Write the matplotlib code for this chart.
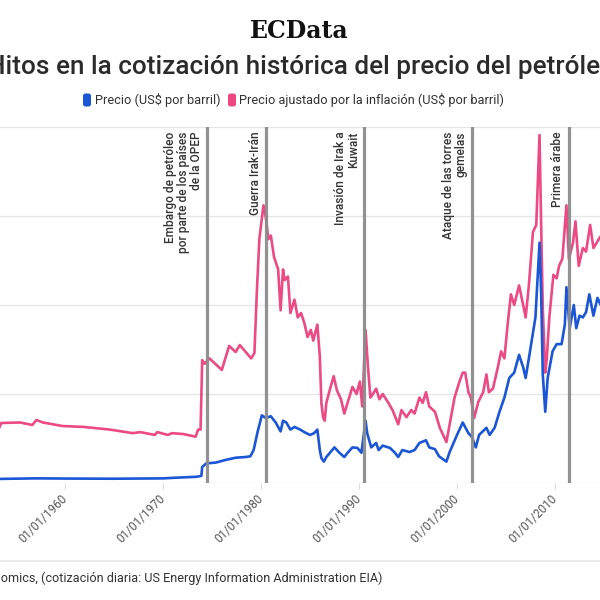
import matplotlib
matplotlib.use("Agg")
import matplotlib.pyplot as plt
import matplotlib.dates as mdates
from matplotlib.patches import FancyBboxPatch
from matplotlib.lines import Line2D
import pandas as pd

# ---------------- data ----------------
precio_fechas = ["1953-05", "1957-01", "1960-01", "1965-01", "1970-01", "1971-06", "1973-06", "1973-12",
                 "1974-01", "1974-06", "1975-06", "1976-06", "1977-06", "1978-06", "1978-12", "1979-04",
                 "1979-09", "1980-02", "1980-07", "1981-01", "1981-07", "1982-01", "1982-04", "1982-08",
                 "1983-01", "1983-06", "1984-01", "1984-06", "1985-01", "1985-06", "1985-10", "1986-01",
                 "1986-03", "1986-06", "1986-09", "1987-07", "1988-01", "1988-07", "1988-11", "1989-05",
                 "1989-11", "1990-04", "1990-09", "1990-11", "1991-04", "1991-10", "1992-01", "1992-06",
                 "1993-03", "1993-09", "1994-01", "1994-06", "1995-03", "1995-09", "1996-03", "1996-11",
                 "1997-03", "1997-10", "1998-03", "1998-12", "1999-04", "2000-01", "2000-08", "2001-03",
                 "2001-07", "2001-12", "2002-04", "2003-01", "2003-05", "2003-11", "2004-05", "2004-11",
                 "2005-05", "2005-11", "2006-05", "2006-10", "2007-01", "2007-05", "2008-01", "2008-06",
                 "2008-08", "2008-10", "2009-01", "2009-04", "2009-10", "2010-03", "2010-09", "2011-01",
                 "2011-03", "2011-07", "2011-12", "2012-03", "2012-07", "2012-11", "2013-03", "2013-07",
                 "2013-12", "2014-05", "2014-09"]
precio_valores = [2.3, 2.6, 2.5, 2.4, 2.6, 3.0, 3.5, 4.0,
                  9.0, 11.0, 11.5, 13.0, 14.2, 14.6, 15.0, 18.5,
                  29.0, 38.0, 36.5, 37.5, 34.0, 29.0, 35.0, 34.0,
                  30.0, 31.5, 30.0, 28.6, 27.0, 28.0, 30.0, 18.5,
                  14.0, 12.0, 14.6, 20.0, 17.0, 14.6, 17.0, 20.0,
                  19.7, 17.0, 35.0, 28.0, 20.0, 22.5, 18.5, 21.0,
                  19.7, 17.0, 14.6, 18.5, 17.4, 18.5, 22.5, 24.0,
                  20.0, 19.0, 15.0, 12.0, 17.4, 27.0, 34.0, 28.0,
                  26.0, 20.0, 27.0, 31.0, 27.0, 31.0, 40.0, 48.0,
                  59.0, 62.0, 72.0, 65.0, 59.0, 70.0, 93.0, 135.0,
                  107.0, 61.0, 40.0, 59.0, 74.0, 78.0, 78.0, 89.0,
                  110.0, 87.0, 100.0, 87.0, 94.0, 93.0, 96.0, 106.0,
                  94.0, 104.0, 100.0]

ajustado_fechas = ["1953-05", "1953-07", "1955-06", "1956-09", "1957-02", "1957-10", "1958-10", "1959-10",
                   "1961-12", "1964-08", "1966-12", "1967-09", "1969-03", "1969-06", "1970-07", "1970-12",
                   "1972-02", "1973-05", "1973-08", "1973-11", "1974-01", "1974-04", "1974-10", "1976-01",
                   "1976-10", "1977-06", "1977-11", "1979-01", "1979-05", "1979-08", "1979-11", "1980-04",
                   "1980-07", "1980-10", "1981-01", "1981-05", "1981-10", "1982-01", "1982-04", "1982-06",
                   "1982-10", "1983-01", "1983-06", "1983-10", "1984-02", "1984-06", "1984-10", "1985-02",
                   "1985-05", "1985-10", "1986-01", "1986-03", "1986-05", "1986-07", "1986-09", "1987-01",
                   "1987-06", "1987-10", "1988-03", "1988-07", "1988-11", "1989-05", "1989-10", "1990-02",
                   "1990-05", "1990-09", "1990-12", "1991-03", "1991-06", "1991-10", "1992-02", "1992-06",
                   "1993-01", "1993-06", "1994-01", "1994-05", "1994-11", "1995-05", "1995-09", "1996-03",
                   "1996-07", "1996-11", "1997-03", "1997-10", "1998-04", "1998-12", "1999-04", "1999-10",
                   "2000-04", "2000-08", "2000-11", "2001-03", "2001-06", "2001-10", "2002-03", "2002-09",
                   "2003-01", "2003-04", "2003-09", "2004-03", "2004-07", "2004-11", "2005-03", "2005-07",
                   "2005-11", "2006-05", "2006-10", "2007-01", "2007-05", "2007-10", "2008-02", "2008-06",
                   "2008-08", "2008-10", "2009-01", "2009-03", "2009-06", "2009-11", "2010-03", "2010-06",
                   "2010-10", "2011-03", "2011-06", "2011-11", "2012-02", "2012-06", "2012-11", "2013-03",
                   "2013-08", "2013-12", "2014-04", "2014-08"]
ajustado_valores = [31.5, 33.7, 34.0, 32.6, 35.4, 34.0, 33.0, 32.0,
                    31.5, 30.0, 28.0, 28.6, 27.0, 28.6, 27.0, 28.0,
                    27.5, 26.0, 30.0, 30.0, 69.0, 67.0, 70.0, 63.5,
                    77.0, 73.6, 77.5, 70.0, 73.0, 108.0, 137.0, 156.0,
                    149.0, 137.0, 139.0, 127.0, 120.0, 97.0, 120.0, 114.0,
                    116.0, 95.5, 103.0, 93.0, 95.5, 90.0, 82.0, 86.0,
                    80.0, 89.0, 71.0, 45.0, 37.0, 35.0, 45.0, 52.0,
                    60.0, 52.0, 47.0, 39.0, 45.0, 54.0, 50.0, 57.0,
                    43.0, 86.0, 65.0, 48.0, 50.0, 53.0, 47.0, 50.0,
                    45.0, 41.0, 33.0, 41.0, 37.0, 41.0, 39.0, 48.0,
                    45.0, 51.0, 43.0, 40.0, 31.0, 23.0, 33.0, 48.0,
                    57.0, 62.0, 62.0, 51.0, 48.0, 36.5, 45.5, 51.0,
                    61.0, 51.0, 53.0, 65.0, 74.0, 70.0, 89.0, 106.0,
                    100.0, 111.0, 100.0, 93.0, 111.0, 141.0, 145.0, 195.5,
                    145.0, 98.0, 62.0, 70.0, 93.0, 117.0, 115.0, 122.0,
                    126.0, 156.0, 126.0, 135.0, 147.0, 122.0, 132.0, 130.0,
                    145.0, 132.0, 135.0, 138.0]

eventos_fechas = ["1974-07-01", "1980-07-05", "1990-07-01", "2001-07-10", "2011-05-20"]
eventos_textos = ["Embargo de petróleo\npor parte de los países\nde la OPEP",
                  "Guerra Irak-Irán",
                  "Invasión de Irak a\nKuwait",
                  "Ataque de las torres\ngemelas",
                  "Primera árabe"]

tick_anios = [1960, 1970, 1980, 1990, 2000, 2010]
y_grid = [0, 50, 100, 150, 200]

serie_nombres = ["Precio (US$ por barril)", "Precio ajustado por la inflación (US$ por barril)"]
titulo = "Hitos en la cotización histórica del precio del petróleo"
marca = "ECData"
fuente_inicio = "Fuente: Trading Econ"
fuente_resto = "omics, (cotización diaria: US Energy Information Administration EIA)"

# ---------------- style ----------------
AZUL = "#1b56d6"
ROSA = "#ec4a85"
GRIS_EV = "#8c8c8c"
TXT = "#333333"
plt.rcParams["font.family"] = ["Roboto", "DejaVu Sans"]

W, H = 600, 600
fig = plt.figure(figsize=(6, 6), dpi=100)
fig.patch.set_facecolor("white")

def fx(px):
    return px / W

def fy(py):
    return 1 - py / H

ax_left, ax_right, ax_top, ax_bottom = 0, 600, 127, 483
ax = fig.add_axes([fx(ax_left), fy(ax_bottom), (ax_right - ax_left) / W, (ax_bottom - ax_top) / H])
ax.set_facecolor("none")

d_p = pd.to_datetime(precio_fechas)
d_a = pd.to_datetime(ajustado_fechas)
ax.plot(d_a, ajustado_valores, color=ROSA, lw=1.9, zorder=3, solid_joinstyle="round")
ax.plot(d_p, precio_valores, color=AZUL, lw=1.9, zorder=4, solid_joinstyle="round")

for g in y_grid:
    ax.axhline(g, color="#e6e6e6", lw=1.0, zorder=1)

for f, t in zip(eventos_fechas, eventos_textos):
    d = pd.Timestamp(f)
    ax.axvline(d, color=GRIS_EV, lw=2.3, zorder=5, alpha=0.95)
    ax.annotate(t, xy=(d, 1), xycoords=("data", "axes fraction"),
                xytext=(-3.0, -3.5), textcoords="offset points",
                rotation=90, ha="right", va="top", multialignment="right",
                fontsize=8.6, color=TXT, fontweight="medium", linespacing=0.98, zorder=6)

ax.set_xticks([pd.Timestamp(f"{a}-01-01") for a in tick_anios])
ax.xaxis.set_major_formatter(mdates.DateFormatter("%d/%m/%Y"))
ax.tick_params(axis="x", length=4, width=0.8, color="#dddddd", pad=6,
               labelsize=8.5, labelcolor="#555555")
for lab in ax.get_xticklabels():
    lab.set_rotation(45)
    lab.set_ha("right")
    lab.set_va("center")
    lab.set_rotation_mode("anchor")
ax.set_yticks([])
for s in ax.spines.values():
    s.set_visible(False)

# x range: 1960 at px 65, 9.8 px / year (set after ticks so it is not widened)
ax.set_xlim(pd.Timestamp("1953-05-16"), pd.Timestamp("2014-08-03"))
ax.set_ylim(0, 200)

# ---------------- header ----------------
fig.text(fx(299), fy(31), marca, ha="center", va="center", fontsize=17,
         family="DejaVu Serif", fontweight="bold", color="#111111")

tt = fig.text(fx(301), fy(67), titulo, ha="center", va="center", fontsize=15,
              color="#2b2b2b", fontweight="medium")
fig.canvas.draw()
r = fig.canvas.get_renderer()
w = tt.get_window_extent(r).width
tt.set_fontsize(15 * 630 / w)

# legend
leg_y = 100
probe = [fig.text(0, 0, n, fontsize=10) for n in serie_nombres]
fig.canvas.draw()
wsum = sum(p.get_window_extent(r).width for p in probe)
for p in probe:
    p.remove()
leg_fs = 10 * (125 + 266) / wsum
items = [(83, 95, AZUL, serie_nombres[0]), (228, 239, ROSA, serie_nombres[1])]
for sx, tx, c, name in items:
    p = FancyBboxPatch((fx(sx), fy(leg_y + 6.5)), fx(8), 13 / H,
                       boxstyle="round,pad=0,rounding_size=0.004", transform=fig.transFigure,
                       facecolor=c, edgecolor="none")
    fig.patches.append(p)
    fig.text(fx(tx), fy(leg_y), name, ha="left", va="center", fontsize=leg_fs, color=TXT)

# footer
fig.add_artist(Line2D([0, 1], [fy(561), fy(561)], transform=fig.transFigure, color="#e6e6e6", lw=1.2))
probe = fig.text(0, 0, fuente_resto, fontsize=10)
fig.canvas.draw()
wr = probe.get_window_extent(r).width
probe.remove()
src_fs = 10 * 382 / wr
fig.text(fx(382), fy(578), fuente_inicio + fuente_resto, ha="right", va="center",
         fontsize=src_fs, color=TXT)

fig.savefig("out.png", dpi=100, facecolor="white")
